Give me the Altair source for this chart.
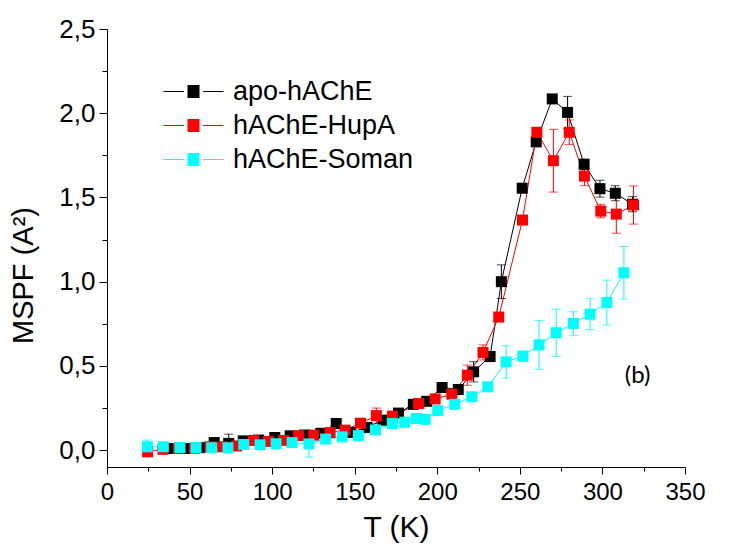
import altair as alt
import pandas as pd

# ---------------- data ----------------
series_names = ["apo-hAChE", "hAChE-HupA", "hAChE-Soman"]
series_colors = ["#000000", "#ff0000", "#00ffff"]

apo_T = [38.0, 47.3, 56.1, 64.9, 73.7, 82.5, 91.8, 101.6, 110.9, 119.7, 129.5, 138.8,
         147.6, 157.4, 167.2, 176.5, 185.5, 193.6, 202.9, 212.7, 222.0, 232.0, 238.8,
         251.4, 259.9, 269.6, 278.9, 288.9, 298.5, 307.8, 318.2]
apo_Y = [0.01, 0.01, 0.015, 0.045, 0.04, 0.055, 0.06, 0.075, 0.085, 0.09, 0.1, 0.158,
         0.105, 0.135, 0.178, 0.22, 0.272, 0.29, 0.372, 0.36, 0.465, 0.556, 1.0, 1.555,
         1.83, 2.085, 2.005, 1.697, 1.552, 1.525, 1.46]
apo_E = [0, 0, 0, 0, 0.055, 0, 0, 0, 0, 0, 0, 0.03, 0, 0, 0, 0, 0, 0, 0, 0, 0.06,
         0.03, 0.1, 0, 0, 0, 0.095, 0.03, 0.05, 0.045, 0.045]

hup_T = [24.6, 33.9, 43.2, 53.0, 62.4, 70.0, 78.5, 88.7, 97.7, 107.0, 116.1, 125.2,
         135.1, 144.2, 153.5, 163.1, 172.9, 188.7, 198.7, 208.8, 218.2, 227.7, 237.2,
         251.6, 260.3, 270.3, 279.9, 289.1, 299.0, 308.4, 318.8]
hup_Y = [-0.01, 0.005, 0.01, 0.012, 0.02, 0.02, 0.025, 0.058, 0.052, 0.058, 0.086, 0.089,
         0.104, 0.119, 0.16, 0.205, 0.202, 0.277, 0.304, 0.332, 0.445, 0.58, 0.79, 1.366,
         1.887, 1.718, 1.887, 1.627, 1.419, 1.401, 1.455]
hup_E = [0, 0, 0, 0, 0, 0, 0, 0, 0, 0, 0, 0, 0, 0, 0, 0.045, 0, 0, 0, 0, 0.06, 0.045,
         0, 0, 0, 0.186, 0.073, 0.057, 0.04, 0.114, 0.113]

som_T = [24.4, 34.1, 44.2, 53.9, 63.4, 73.2, 82.8, 92.7, 102.4, 112.1, 122.3, 132.4,
         142.4, 152.2, 162.6, 172.8, 180.3, 187.3, 192.7, 200.3, 210.6, 220.9, 230.6,
         241.7, 251.8, 261.6, 272.0, 282.4, 292.5, 302.7, 313.0]
som_Y = [0.02, 0.02, 0.016, 0.016, 0.014, 0.014, 0.034, 0.032, 0.038, 0.045, 0.037,
         0.066, 0.079, 0.086, 0.12, 0.158, 0.166, 0.188, 0.183, 0.235, 0.272, 0.317,
         0.376, 0.524, 0.558, 0.625, 0.697, 0.752, 0.807, 0.876, 1.053]
som_E = [0.04, 0, 0, 0, 0, 0, 0, 0, 0, 0, 0.078, 0, 0, 0, 0, 0, 0, 0, 0, 0, 0, 0, 0,
         0.096, 0.03, 0.145, 0.14, 0.07, 0.092, 0.133, 0.156]

annot_text = ["(b)"]
annot_T = [321.3]
annot_Y = [0.44]

x_ticks = list(range(0, 351, 25))
y_ticks = [i * 0.25 for i in range(0, 11)]

# ---------------- build tables ----------------
frames = []
for name, T, Y, E in [(series_names[0], apo_T, apo_Y, apo_E),
                      (series_names[1], hup_T, hup_Y, hup_E),
                      (series_names[2], som_T, som_Y, som_E)]:
    frames.append(pd.DataFrame({"T": T, "Y": Y, "err": E, "series": name}))
df = pd.concat(frames, ignore_index=True)
df["order"] = range(len(df))
df["lo"] = df["Y"] - df["err"]
df["hi"] = df["Y"] + df["err"]
err_df = df[df["err"] > 0].reset_index(drop=True)
annot_df = pd.DataFrame({"T": annot_T, "Y": annot_Y, "text": annot_text})

FONT = "Liberation Sans"

xs = alt.Scale(domain=[0, 350], nice=False, zero=False)
ys = alt.Scale(domain=[-0.1, 2.5], nice=False, zero=False)

x_axis = alt.Axis(
    values=x_ticks, title="T (K)", grid=False,
    labelExpr="datum.value % 50 === 0 ? datum.label : ''",
    labelOverlap=False, labelFlush=False,
    tickSize={"condition": {"test": "datum.value % 50 === 0", "value": 7}, "value": 4},
    tickColor="black", domainColor="black", tickWidth=1, domainWidth=1,
    labelFont=FONT, labelFontSize=24, labelColor="black", labelPadding=6,
    titleFont=FONT, titleFontSize=30, titleFontWeight="normal", titleColor="black",
    titlePadding=8,
)
y_axis = alt.Axis(
    values=y_ticks, title="MSPF (A²)", grid=False,
    labelExpr="datum.value % 0.5 === 0 ? replace(format(datum.value, '.1f'), '.', ',') : ''",
    labelOverlap=False, labelFlush=False,
    tickSize={"condition": {"test": "datum.value % 0.5 === 0", "value": 8}, "value": 5},
    tickColor="black", domainColor="black", tickWidth=1, domainWidth=1,
    labelFont=FONT, labelFontSize=26, labelColor="black", labelPadding=4,
    titleFont=FONT, titleFontSize=29, titleFontWeight="normal", titleColor="black",
    titleX=-84, titleY=246, titleBaseline="middle", titleAlign="center", titleAngle=270,
)

x_enc = alt.X("T:Q", scale=xs, axis=x_axis)
y_enc = alt.Y("Y:Q", scale=ys, axis=y_axis)
col_scale = alt.Scale(domain=series_names, range=series_colors)

# legend symbol: line - filled square - line (square filled by dense strokes)
sym = "M-5,0H-1.6M1.6,0H5" + "".join("M-1,%.3fH1" % (-1 + k / 6.0) for k in range(13))

legend = alt.Legend(
    title=None, orient="none", legendX=73, legendY=49, padding=0,
    symbolType=sym, symbolSize=144,
    symbolStrokeWidth=1, labelFont=FONT, labelFontSize=27, labelColor="black",
    labelOffset=26, rowPadding=6, labelLimit=400,
)

base = alt.Chart(df)

lines = base.mark_line(strokeWidth=1).encode(
    x=x_enc, y=y_enc,
    color=alt.Color("series:N", scale=col_scale, legend=legend),
    order=alt.Order("order:Q"),
)

err_src = alt.Chart(err_df)
err_rules = err_src.mark_rule(strokeWidth=1).encode(
    x=x_enc, y=alt.Y("lo:Q", scale=ys, axis=y_axis), y2="hi:Q",
    stroke=alt.Stroke("series:N", scale=col_scale, legend=None),
)
err_lo = err_src.mark_tick(orient="horizontal", size=9, thickness=1).encode(
    x=x_enc, y=alt.Y("lo:Q", scale=ys, axis=y_axis),
    fill=alt.Fill("series:N", scale=col_scale, legend=None),
)
err_hi = err_src.mark_tick(orient="horizontal", size=9, thickness=1).encode(
    x=x_enc, y=alt.Y("hi:Q", scale=ys, axis=y_axis),
    fill=alt.Fill("series:N", scale=col_scale, legend=None),
)

points = base.mark_point(shape="square", filled=True, size=121, opacity=1, strokeWidth=0).encode(
    x=x_enc, y=y_enc,
    fill=alt.Fill("series:N", scale=col_scale, legend=None),
    order=alt.Order("order:Q"),
)

annot = alt.Chart(annot_df).mark_text(font="Lato", fontSize=24, color="black").encode(
    x=x_enc, y=y_enc, text="text:N",
)

chart = alt.layer(lines, err_rules, err_lo, err_hi, points, annot).properties(
    width=578, height=438,
    background="white",
    autosize=alt.AutoSizeParams(type="none"),
    padding={"left": 99, "top": 21, "right": 36, "bottom": 76},
).configure_view(strokeWidth=0)

chart.save("out.html", embed_options={"renderer": "svg", "actions": False})
